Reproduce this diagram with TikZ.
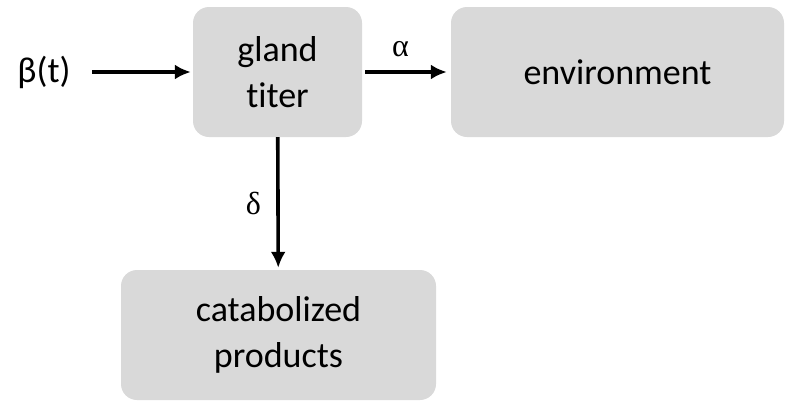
\documentclass[tikz,border=0pt]{standalone}
\usepackage{fontspec}
\setmainfont[Ligatures=NoCommon]{Carlito}
\newfontfamily\grkfont{Liberation Serif}
\usetikzlibrary{arrows.meta,positioning,calc}

\begin{document}
\begin{tikzpicture}
[x=1pt,y=-1pt,
box/.style={fill=black!15,rounded corners=16pt,align=center,
  font=\fontsize{36}{46}\selectfont},
lbl/.style={font=\fontsize{36}{44}\selectfont},
grk/.style={font=\grkfont\fontsize{32}{38}\selectfont},
arr/.style={line width=3.6pt,-{Latex[length=16pt,width=15pt]}}]
%%
\useasboundingbox (0,0) rectangle (787,402);
%%%%%%%%%%%%%%%%%%
% boxes
%%%%%%%%%%%%%%%%%%
\node[box,minimum width=169pt,minimum height=130pt] (gland) at (277.5,72) {gland\\titer};
\node[box,minimum width=333pt,minimum height=130pt] (env) at (617.5,72) {environment};
\node[box,minimum width=315pt,minimum height=130pt] (cat) at (278.5,335) {catabolized\\products};
%%
%% input
\node[lbl] (beta) at (44,72) {β(t)};
%%%%%%%%%%%%%%%%%%
% arrows
%%%%%%%%%%%%%%%%%%
\draw[arr,shorten <=18pt,shorten >=2pt] (beta) -- (gland);
\draw[arr,shorten <=3pt,shorten >=4pt] (gland) -- node[grk,above=10pt,xshift=-6pt] (alpha) {α} (env);
\draw[arr,shorten >=2pt] (gland) -- node[grk,left=12pt] (delta) {δ} (cat);
%%
\end{tikzpicture}
\end{document}
